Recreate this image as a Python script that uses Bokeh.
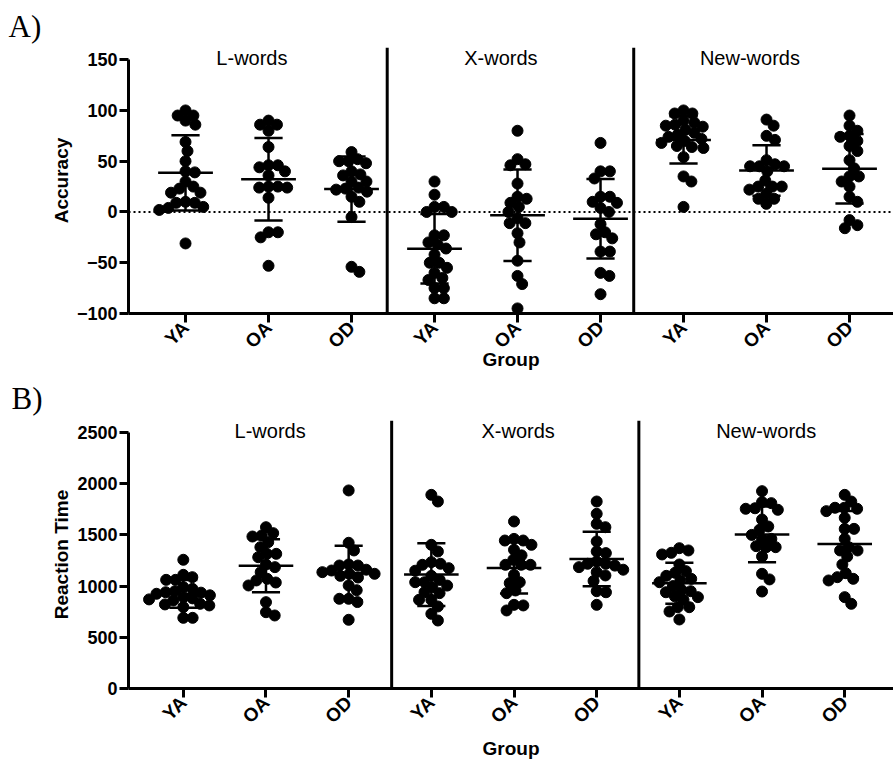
import numpy as np
from bokeh.plotting import figure
from bokeh.models import FixedTicker, Span, ColumnDataSource, Title
from bokeh.layouts import column
from bokeh.embed import file_html
from bokeh.resources import INLINE
from bokeh.core.properties import value

groups = ["YA", "OA", "OD"]
conditions = ["L-words", "X-words", "New-words"]

# Panel A: Accuracy
acc_L_YA = [95, 90, 86, 95, 100, 69, 60, 50, 39, 40, 30, 23, 19, 19, 25, 9, 10, 9, 4, 2, 5, -31]
acc_L_OA = [86, 86, 80, 90, 64, 44, 46, 46, 36, 40, 25, 25, 24, 24, 14, -20, -25, -20, -53]
acc_L_OD = [50, 52, 50, 48, 59, 40, 37, 36, 30, 30, 24, 23, 20, 22, 10, 15, -5, -59, -54]
acc_X_YA = [30, 17, 5, 5, 0, 0, -23, -23, -30, -32, -36, -42, -55, -50, -50, -60, -65, -67, -75, -75, -85, -85]
acc_X_OA = [80, 47, 46, 52, 28, 13, 15, 5, 9, 0, -6, -11, -11, -21, -30, -48, -63, -71, -95]
acc_X_OD = [68, 40, 40, 33, 15, 10, 15, 9, 4, 0, -12, -20, -26, -22, -39, -39, -60, -63, -81]
acc_N_YA = [100, 97, 97, 85, 81, 86, 84, 74, 76, 72, 65, 64, 63, 54, 35, 30, 5, 90, 88, 78, 70, 68]
acc_N_OA = [91, 85, 75, 71, 51, 45, 45, 45, 47, 40, 22, 25, 25, 25, 13, 13, 18, 8, 31]
acc_N_OD = [95, 85, 80, 74, 75, 70, 60, 65, 51, 43, 35, 35, 30, 25, 15, 10, -8, -16, -13]

# Panel B: Reaction time
rt_L_YA = [1257, 1087, 1061, 1061, 1110, 973, 990, 940, 925, 936, 892, 827, 795, 811, 821, 860, 690, 690, 950, 910, 880, 870]
rt_L_OA = [1575, 1517, 1484, 1494, 1429, 1315, 1315, 1380, 1282, 1211, 1185, 1136, 1071, 1035, 1006, 1055, 843, 713, 745]
rt_L_OD = [1934, 1423, 1348, 1211, 1201, 1201, 1152, 1136, 1120, 1120, 1084, 1100, 1160, 1006, 960, 876, 844, 876, 671]
rt_X_YA = [1891, 1826, 1403, 1338, 1218, 1208, 1234, 1175, 1038, 1038, 989, 1005, 931, 940, 866, 866, 801, 729, 664, 1100, 1150, 1060]
rt_X_OA = [1631, 1445, 1461, 1445, 1403, 1354, 1257, 1208, 1208, 1208, 1110, 1038, 1029, 957, 931, 817, 811, 762, 1300]
rt_X_OD = [1826, 1706, 1575, 1608, 1436, 1338, 1322, 1218, 1240, 1200, 1185, 1218, 1136, 1104, 1050, 1160, 950, 940, 817]
rt_N_YA = [1348, 1309, 1370, 1325, 1211, 1146, 1130, 1071, 1055, 1038, 964, 950, 940, 892, 866, 794, 752, 794, 674, 1000, 1100, 900]
rt_N_OA = [1927, 1810, 1755, 1820, 1745, 1760, 1650, 1582, 1390, 1380, 1461, 1461, 1380, 1289, 1120, 1065, 947, 1500, 1550]
rt_N_OD = [1891, 1765, 1755, 1826, 1732, 1765, 1667, 1559, 1559, 1462, 1348, 1380, 1348, 1289, 1211, 1126, 1071, 1055, 1087, 827, 892]

acc_series = [acc_L_YA, acc_L_OA, acc_L_OD, acc_X_YA, acc_X_OA, acc_X_OD, acc_N_YA, acc_N_OA, acc_N_OD]
rt_series = [rt_L_YA, rt_L_OA, rt_L_OD, rt_X_YA, rt_X_OA, rt_X_OD, rt_N_YA, rt_N_OA, rt_N_OD]
acc_ticks = [-100, -50, 0, 50, 100, 150]
rt_ticks = [0, 500, 1000, 1500, 2000, 2500]

FONT = "Liberation Sans"
DOT = 11


def swarm(vals, kx, ky, d):
    vals = np.asarray(vals, dtype=float)
    order = np.argsort(-vals, kind="stable")
    placed = []
    offs = np.zeros(len(vals))
    for i in order:
        y = vals[i] * ky
        forb = []
        for (px, py) in placed:
            dy = abs(py - y)
            if dy < d:
                h = np.sqrt(d * d - dy * dy)
                forb.append((px - h, px + h))
        cands = [0.0] + [a for a, b in forb] + [b for a, b in forb]
        cands.sort(key=lambda c: (abs(c), -c))
        chosen = 0.0
        for c in cands:
            if all(not (a + 1e-6 < c < b - 1e-6) for a, b in forb):
                chosen = c
                break
        placed.append((chosen, y))
        offs[i] = chosen / kx
    return offs


def panel(series, y_start, y_end, ybounds, yticks, ylabel, x_start, seps,
          W, H, bl, bt, bb, title_dx, letter, letter_standoff, xlabel_standoff, zero_line):
    kx = 83.0
    fw = W - bl
    fh = H - bt - bb
    x_end = x_start + fw / kx
    ky = fh / (y_end - y_start)
    p = figure(width=W, height=H, x_range=(x_start, x_end), y_range=(y_start, y_end),
               output_backend="svg", toolbar_location=None,
               min_border_left=bl, min_border_right=0, min_border_top=bt, min_border_bottom=bb)
    p.grid.visible = False
    p.outline_line_color = None
    p.background_fill_color = "white"

    t = Title(text=letter, align="left", offset=-(bl - 8), standoff=letter_standoff,
              text_font="Liberation Serif", text_font_size="31px",
              text_font_style="normal", text_color="black")
    p.add_layout(t, "above")

    if zero_line:
        p.add_layout(Span(location=0, dimension="width", line_color="black",
                          line_width=2, line_dash="2 3"))
    for s in seps:
        p.add_layout(Span(location=s, dimension="height", line_color="black", line_width=3))

    xs, ys = [], []
    mx, mean, lo, hi = [], [], [], []
    for gi, vals in enumerate(series):
        pos = gi + 1
        offs = swarm(vals, kx, ky, DOT * 0.85)
        xs.extend(pos + offs)
        ys.extend(vals)
        m = float(np.mean(vals))
        sd = float(np.std(vals, ddof=1))
        mx.append(pos)
        mean.append(m)
        lo.append(m - sd)
        hi.append(m + sd)
    p.scatter(xs, ys, size=DOT, color="black", marker="circle")
    mx = np.array(mx, dtype=float)
    p.segment(x0=mx, y0=lo, x1=mx, y1=hi, line_width=2.5, color="black")
    p.segment(x0=mx - 0.17, y0=lo, x1=mx + 0.17, y1=lo, line_width=2.5, color="black")
    p.segment(x0=mx - 0.17, y0=hi, x1=mx + 0.17, y1=hi, line_width=2.5, color="black")
    p.segment(x0=mx - 0.33, y0=mean, x1=mx + 0.33, y1=mean, line_width=2.5, color="black")

    tsrc = ColumnDataSource(dict(x=[2 + 3 * k + title_dx for k in range(3)],
                                 y=[y_end - 10 / ky] * 3, t=conditions))
    p.text(x="x", y="y", text="t", source=tsrc, text_font=value(FONT),
           text_font_size="20px", text_align="center", text_baseline="middle",
           text_color="black")

    p.xaxis.ticker = FixedTicker(ticks=list(range(1, 10)))
    p.xaxis.major_label_overrides = {i: groups[(i - 1) % 3] for i in range(1, 10)}
    p.xaxis.major_label_orientation = np.pi / 4
    p.xaxis.axis_label = "Group"
    p.yaxis.ticker = FixedTicker(ticks=yticks)
    p.yaxis.bounds = ybounds
    p.yaxis.axis_label = ylabel
    for ax in (p.xaxis[0], p.yaxis[0]):
        ax.axis_line_width = 3
        ax.axis_line_color = "black"
        ax.major_tick_line_width = 3
        ax.major_tick_line_color = "black"
        ax.major_tick_out = 9
        ax.major_tick_in = 0
        ax.minor_tick_line_color = None
        ax.major_label_text_font = FONT
        ax.major_label_text_font_style = "bold"
        ax.major_label_text_font_size = "18px"
        ax.major_label_text_color = "black"
        ax.major_label_standoff = 2
        ax.axis_label_text_font = FONT
        ax.axis_label_text_font_style = "bold"
        ax.axis_label_text_font_size = "19px"
        ax.axis_label_text_color = "black"
        ax.axis_label_standoff = 2
    p.xaxis.major_label_text_font_size = "19px"
    p.xaxis.axis_label_standoff = xlabel_standoff
    return p


pA = panel(acc_series, -100, 162, (-100, 150), acc_ticks, "Accuracy", 0.313, [3.43, 6.40],
           893, 372, 128, 47, 59, -0.2, "A)", 7, -14, True)
pB = panel(rt_series, 0, 2617, (0, 2500), rt_ticks, "Reaction Time", 0.337, [3.52, 6.51],
           893, 397, 125, 48, 81, 0.05, "B)", 10, 0, False)

layout = column(pA, pB, spacing=0)
open("out.html", "w").write(file_html(layout, INLINE))
